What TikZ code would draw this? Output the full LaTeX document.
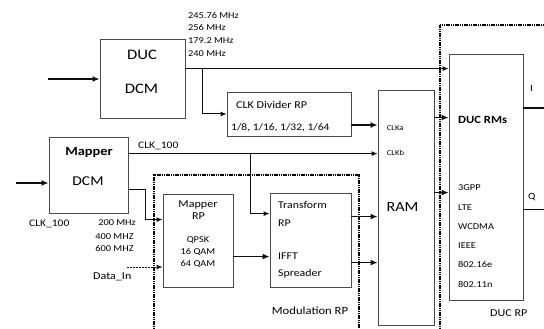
\documentclass[tikz,border=0pt]{standalone}
\usepackage{fontspec}
\setmainfont{Carlito}[FakeStretch=1.15]
\usetikzlibrary{arrows.meta,positioning,calc}
\definecolor{boxc}{HTML}{4A4A4A}
\definecolor{linec}{HTML}{101010}
\newcommand{\fs}[1]{\fontsize{#1}{#1}\selectfont}
\tikzset{
  blk/.style={rectangle, draw=boxc, line width=0.8pt, inner sep=0pt},
  lbl/.style={inner sep=0pt, anchor=base, text=black},
  lbw/.style={inner sep=0pt, anchor=base west, text=black},
  link/.style={-{Latex[length=6pt,width=5pt]}, draw=linec, line width=1pt},
  biglink/.style={-{Latex[length=7pt,width=6pt]}, draw=linec, line width=1.7pt},
  region/.style={draw=black, line width=1.8pt, dash pattern=on 1.2pt off 0.6pt},
}

\begin{document}
\begin{tikzpicture}[x=1pt, y=-1pt]
  \useasboundingbox (0,0) rectangle (544,329);
  % blocks
  \node[blk, minimum width=85pt, minimum height=79pt] (ducdcm) at (142.5,78.5) {};
  \node[blk, minimum width=124pt, minimum height=44pt] (clkdiv) at (289,114) {};
  \node[blk, minimum width=79pt, minimum height=76pt] (mapdcm) at (88.5,175) {};
  \node[blk, minimum width=70pt, minimum height=93pt] (maprp) at (198,240.5) {};
  \node[blk, minimum width=81pt, minimum height=94pt] (transf) at (310.5,240) {};
  \node[blk, minimum width=56pt, minimum height=235pt] (ram) at (406,207.5) {};
  \node[blk, minimum width=74pt, minimum height=246pt] (ducrm) at (486,177) {};
  % regions
  \draw[region] (154,329) |- (359,175) -- (359,329);
  \draw[region] (440,329) |- (544,25);
  % texts
  \node[lbl, font=\fs{14.5}] (tduc) at (142,60) {DUC};
  \node[lbl, font=\fs{14.5}] (tducdcm) at (141.5,93) {DCM};
  \foreach \f [count=\i] in {245.76 MHz, 256 MHz, 179.2 MHz, 240 MHz}
    \node[lbw, font=\fs{9}] (fq\i) at (188,{18.3+12.57*(\i-1)}) {\f};
  \node[lbw, font=\fs{10.5}] (tclk) at (236,108.3) {CLK Divider RP};
  \node[lbw, font=\fs{10}] (tdiv) at (231,130) {1/8, 1/16, 1/32, 1/64};
  \node[lbl, font=\bfseries\fs{12.5}] (tmap) at (89,155) {Mapper};
  \node[lbl, font=\fs{13.5}] (tmapdcm) at (88,185) {DCM};
  \node[lbw, font=\fs{10}] (tclkA) at (138,148.3) {CLK\_100};
  \node[lbw, font=\fs{10}] (tclkB) at (29,226) {CLK\_100};
  \node[lbl, font=\fs{9}] (tm1) at (117,225.7) {200 MHz};
  \node[lbl, font=\fs{9}] (tm2) at (114.5,239) {400 MHZ};
  \node[lbl, font=\fs{9}] (tm3) at (114.5,251.7) {600 MHZ};
  \node[lbw, font=\fs{10.5}] (tdin) at (93,279) {Data\_In};
  \node[lbl, font=\fs{10.5}] (tmr1) at (198,207) {Mapper};
  \node[lbl, font=\fs{10.5}] (tmr2) at (198.5,219) {RP};
  \foreach \f [count=\i] in {QPSK, 16 QAM, 64 QAM}
    \node[lbl, font=\fs{9}] (qm\i) at (198,{242+12.35*(\i-1)}) {\f};
  \node[lbw, font=\fs{10.3}] (ttr1) at (278,208.3) {Transform};
  \node[lbw, font=\fs{10.3}] (ttr2) at (278,226.7) {RP};
  \node[lbw, font=\fs{10.3}] (ttr3) at (278,259.3) {IFFT};
  \node[lbw, font=\fs{10.3}] (ttr4) at (278,276.7) {Spreader};
  \node[lbl, font=\fs{14}] (tram) at (402.5,211.7) {RAM};
  \node[lbw, font=\fs{7.5}] (tca) at (386.7,130) {CLKa};
  \node[lbw, font=\fs{7.5}] (tcb) at (386.7,155.7) {CLKb};
  \node[lbw, font=\bfseries\fs{11}] (trm) at (458,123.3) {DUC RMs};
  \foreach \f [count=\i] in {3GPP, LTE, WCDMA, IEEE, 802.16e, 802.11n}
    \node[lbw, font=\fs{9}] (st\i) at (458,{190.7+19.3*(\i-1)}) {\f};
  \node[lbw, font=\fs{9.5}] (tI) at (530,91.7) {I};
  \node[lbw, font=\fs{9.5}] (tQ) at (528,199) {Q};
  \node[lbw, font=\fs{11}] (tmod) at (271.7,314) {Modulation RP};
  \node[lbw, font=\fs{10.5}] (tducrp) at (490,316.7) {DUC RP};
  % connectors
  \coordinate (inD) at (48,79);
  \draw[biglink] (inD) -- (inD -| ducdcm.west);
  \coordinate (inM) at (16,183);
  \draw[biglink] (inM) -- (inM -| mapdcm.west);
  \coordinate (fD) at ([yshift=-30pt]ducdcm.north east);
  \draw[link] (fD) -- (fD -| ducrm.west);
  \coordinate (brD) at (202,69);
  \draw[link] (brD) |- (clkdiv.west);
  \coordinate (cD) at ([yshift=-11pt]clkdiv.east);
  \draw[biglink] (cD) -- (cD -| ram.west);
  \coordinate (fM) at ([yshift=-17pt]mapdcm.north east);
  \draw[link] (fM) -- (fM -| ram.west);
  \coordinate (brM) at (250,154);
  \draw[link] (brM) |- ([yshift=-21pt]transf.north west);
  \coordinate (fM2) at ([yshift=-53pt]mapdcm.north east);
  \draw[link] (fM2) -- ++(17,0) |- ([yshift=-26pt]maprp.north west);
  \coordinate (din) at (127,267);
  \draw[link, dash pattern=on 2pt off 1pt] (din) -- (din -| maprp.west);
  \coordinate (mT) at ([yshift=-63pt]maprp.north east);
  \draw[biglink] (mT) -- (mT -| transf.west);
  \foreach \d [count=\i] in {24,70}{
    \coordinate (tR\i) at ([yshift=-\d pt]transf.north east);
    \draw[biglink] (tR\i) -- (tR\i -| ram.west);}
  \foreach \d [count=\i] in {28,103}{
    \coordinate (rD\i) at ([yshift=-\d pt]ram.north east);
    \draw[biglink] (rD\i) -- (rD\i -| ducrm.west);}
  \coordinate (iout) at (544,108);
  \draw[draw=linec, line width=1.8pt] (iout -| ducrm.east) -- (iout);
  \coordinate (qout) at (544,209);
  \draw[draw=linec, line width=1pt] (qout -| ducrm.east) -- (qout);
\end{tikzpicture}
\end{document}
